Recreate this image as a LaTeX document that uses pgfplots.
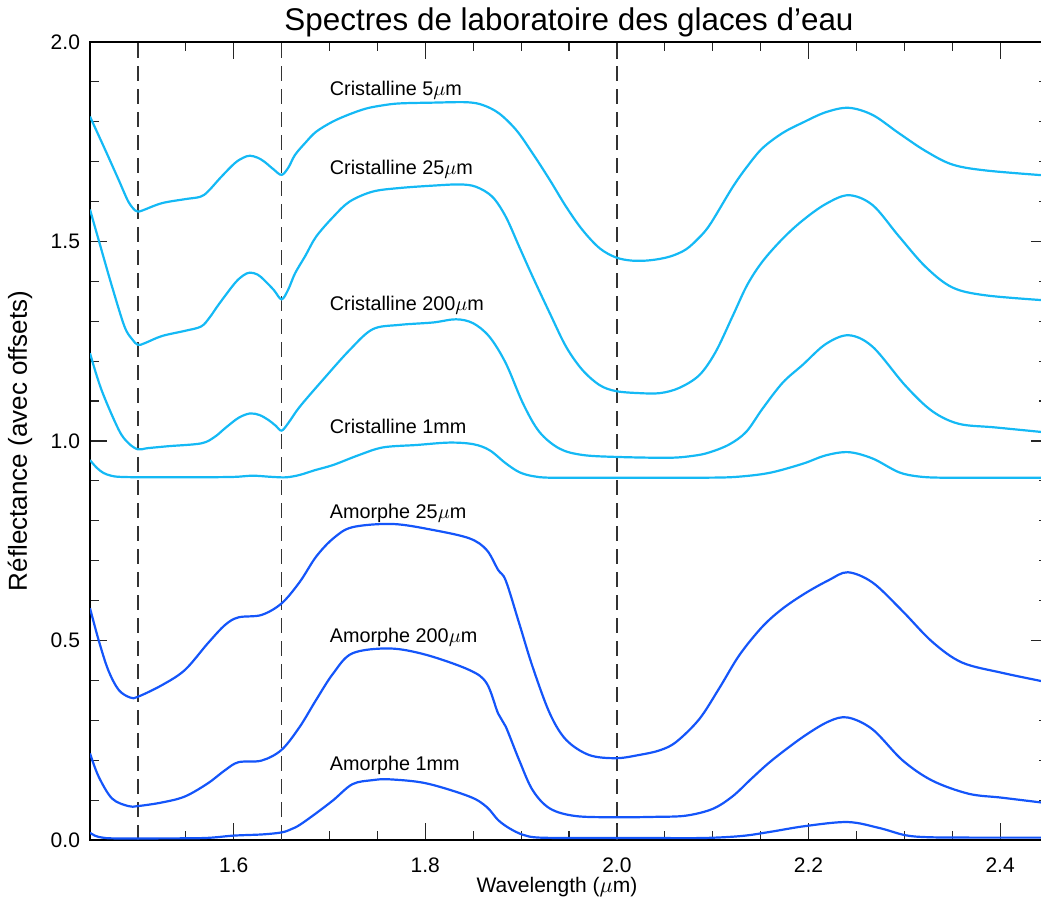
\documentclass[border=0pt]{standalone}
\usepackage{pgfplots}
\pgfplotsset{compat=1.18}
\usepackage{fontspec}
\setmainfont{Liberation Sans}
\definecolor{cris}{RGB}{20,185,245}
\definecolor{amor}{RGB}{20,85,250}
\begin{document}
\begin{tikzpicture}
\begin{axis}[
  scale only axis, width=479pt, height=399pt,
  xmin=1.45, xmax=2.45, ymin=0, ymax=2,
  xtick={1.6,1.8,2.0,2.2,2.4},
  minor xtick={1.45,1.5,1.55,1.65,1.7,1.75,1.85,1.9,1.95,2.05,2.1,2.15,2.25,2.3,2.35,2.45},
  ytick={0,0.5,1,1.5,2},
  minor ytick={0.1,0.2,0.3,0.4,0.6,0.7,0.8,0.9,1.1,1.2,1.3,1.4,1.6,1.7,1.8,1.9},
  major tick length=8.5pt, minor tick length=4.5pt,
  tick style={black!85, line width=0.6pt},
  axis line style={line width=0.8pt},
  /pgf/number format/assume math mode=true,
  x tick label style={/pgf/number format/.cd, fixed, fixed zerofill, precision=1, /tikz/.cd, font=\fontsize{10.5}{12}\selectfont, yshift=-5.5pt},
  y tick label style={/pgf/number format/.cd, fixed, fixed zerofill, precision=1, /tikz/.cd, font=\fontsize{10.5}{12}\selectfont, xshift=-1.5pt},
  title={Spectres de laboratoire des glaces d'eau},
  every axis title/.style={font=\fontsize{15.7}{18}\selectfont, at={(axis description cs:0.5,1)}, anchor=base, yshift=5.5pt},
  xlabel={Wavelength ($\mu$m)},
  every axis x label/.style={font=\fontsize{10.5}{12}\selectfont, at={(axis description cs:0.5,0)}, anchor=center, yshift=-23.5pt, xshift=-6pt},
  ylabel={Réflectance (avec offsets)},
  every axis y label/.style={font=\fontsize{13}{15}\selectfont, at={(axis description cs:0,0.5)}, rotate=90, anchor=center, yshift=35pt},
  every axis plot/.append style={line width=1.1pt},
]
% vertical dashed reference lines
\addplot[black!80, line width=0.7pt, dash pattern=on 7.5pt off 4pt] coordinates {(1.5,0) (1.5,2)};
\addplot[black!80, line width=0.7pt, dash pattern=on 7.5pt off 4pt] coordinates {(1.65,0) (1.65,2)};
\addplot[black!80, line width=0.7pt, dash pattern=on 7.5pt off 4pt] coordinates {(2.0,0) (2.0,2)};
% Cristalline 5 um
\addplot[cris, smooth, tension=0.55] coordinates {
(1.450,1.813) (1.466,1.729) (1.480,1.654) (1.490,1.600) (1.497,1.578) (1.500,1.575) (1.505,1.578)
(1.525,1.596) (1.549,1.606) (1.565,1.612) (1.573,1.625) (1.587,1.662) (1.601,1.696) (1.610,1.710)
(1.617,1.715) (1.625,1.710) (1.632,1.700) (1.642,1.680) (1.650,1.667) (1.657,1.685) (1.664,1.717)
(1.675,1.748) (1.686,1.775) (1.703,1.800) (1.720,1.818) (1.738,1.833) (1.755,1.841) (1.773,1.846)
(1.808,1.848) (1.843,1.849) (1.860,1.842) (1.877,1.821) (1.895,1.779) (1.912,1.721) (1.930,1.654)
(1.947,1.587) (1.964,1.529) (1.982,1.483) (1.999,1.460) (2.016,1.452) (2.035,1.453) (2.055,1.462)
(2.072,1.480) (2.086,1.510) (2.095,1.535) (2.103,1.565) (2.121,1.637) (2.136,1.688) (2.152,1.734) (2.173,1.772)
(2.194,1.798) (2.218,1.824) (2.242,1.835) (2.267,1.817) (2.294,1.772) (2.322,1.727) (2.350,1.693)
(2.385,1.678) (2.450,1.665)};
% Cristalline 25 um
\addplot[cris, smooth, tension=0.55] coordinates {
(1.450,1.580) (1.459,1.504) (1.473,1.387) (1.486,1.287) (1.494,1.255) (1.500,1.241) (1.507,1.245)
(1.525,1.263) (1.549,1.276) (1.566,1.287) (1.575,1.310) (1.584,1.341) (1.601,1.395) (1.610,1.415)
(1.617,1.422) (1.625,1.417) (1.632,1.403) (1.642,1.378) (1.650,1.355) (1.657,1.380) (1.664,1.420)
(1.675,1.465) (1.686,1.512) (1.704,1.562) (1.721,1.600) (1.745,1.625) (1.773,1.634) (1.808,1.640)
(1.836,1.643) (1.853,1.637) (1.870,1.612) (1.884,1.562) (1.898,1.487) (1.912,1.412) (1.930,1.320)
(1.947,1.236) (1.964,1.178) (1.982,1.140) (1.999,1.125) (2.023,1.120) (2.045,1.120) (2.065,1.133)
(2.086,1.165) (2.103,1.223) (2.121,1.314) (2.136,1.391) (2.152,1.450) (2.173,1.507) (2.194,1.553)
(2.218,1.594) (2.242,1.616) (2.267,1.591) (2.294,1.514) (2.322,1.437) (2.350,1.385) (2.385,1.365)
(2.450,1.352)};
% Cristalline 200 um
\addplot[cris, smooth, tension=0.55] coordinates {
(1.450,1.220) (1.462,1.128) (1.480,1.028) (1.490,0.995) (1.500,0.979) (1.510,0.982) (1.532,0.987)
(1.566,0.994) (1.580,1.010) (1.591,1.032) (1.605,1.058) (1.617,1.069) (1.627,1.065) (1.636,1.053)
(1.644,1.038) (1.650,1.026) (1.657,1.045) (1.669,1.086) (1.693,1.153) (1.721,1.228) (1.745,1.280)
(1.773,1.291) (1.808,1.297) (1.832,1.305) (1.850,1.295) (1.867,1.261) (1.884,1.195) (1.902,1.094)
(1.919,1.023) (1.940,0.981) (1.964,0.965) (2.000,0.960) (2.055,0.958) (2.080,0.963) (2.096,0.971) (2.117,0.991)
(2.135,1.023) (2.152,1.081) (2.173,1.146) (2.194,1.191) (2.218,1.243) (2.242,1.265) (2.267,1.236)
(2.301,1.139) (2.329,1.075) (2.357,1.043) (2.395,1.034) (2.450,1.021)};
% Cristalline 1 mm
\addplot[cris, smooth, tension=0.55] coordinates {
(1.450,0.952) (1.457,0.933) (1.464,0.920) (1.472,0.913) (1.482,0.910) (1.510,0.909) (1.560,0.909)
(1.600,0.910) (1.620,0.913) (1.640,0.910) (1.655,0.909)
(1.669,0.915) (1.685,0.927) (1.704,0.940) (1.731,0.965) (1.756,0.984) (1.791,0.990) (1.825,0.996)
(1.850,0.992) (1.867,0.977) (1.884,0.944) (1.898,0.922) (1.912,0.912) (1.930,0.908) (1.980,0.908)
(2.040,0.908) (2.090,0.908) (2.124,0.910) (2.159,0.920)
(2.194,0.943) (2.218,0.964) (2.242,0.972) (2.267,0.956) (2.294,0.922) (2.315,0.911) (2.340,0.908)
(2.390,0.908) (2.450,0.908)};
% Amorphe 25 um
\addplot[amor, smooth, tension=0.55] coordinates {
(1.450,0.581) (1.459,0.501) (1.469,0.426) (1.480,0.376) (1.492,0.357) (1.500,0.359) (1.525,0.388)
(1.549,0.426) (1.573,0.493) (1.591,0.539) (1.605,0.558) (1.629,0.564) (1.650,0.593) (1.669,0.647)
(1.686,0.710) (1.704,0.756) (1.724,0.784) (1.766,0.792) (1.808,0.777) (1.846,0.756) (1.864,0.727)
(1.876,0.677) (1.884,0.650) (1.898,0.543) (1.912,0.434) (1.930,0.317) (1.947,0.251) (1.971,0.213)
(1.999,0.205) (2.023,0.213) (2.045,0.225) (2.062,0.246) (2.086,0.303) (2.107,0.381) (2.128,0.464)
(2.152,0.535) (2.173,0.580) (2.197,0.619) (2.221,0.651) (2.241,0.671) (2.267,0.645) (2.298,0.574)
(2.329,0.497) (2.360,0.445) (2.402,0.419) (2.450,0.395)};
% Amorphe 200 um
\addplot[amor, smooth, tension=0.55] coordinates {
(1.450,0.217) (1.459,0.159) (1.473,0.104) (1.490,0.085) (1.500,0.085) (1.525,0.094) (1.549,0.109)
(1.573,0.142) (1.591,0.175) (1.605,0.195) (1.629,0.199) (1.650,0.226) (1.669,0.284) (1.686,0.351)
(1.704,0.418) (1.724,0.468) (1.763,0.480) (1.801,0.464) (1.846,0.426) (1.864,0.393) (1.876,0.317)
(1.884,0.284) (1.898,0.200) (1.912,0.125) (1.930,0.079) (1.957,0.060) (2.000,0.057) (2.040,0.058) (2.072,0.061)
(2.100,0.078) (2.121,0.110) (2.141,0.155) (2.162,0.200) (2.194,0.258) (2.221,0.297) (2.241,0.307)
(2.267,0.277) (2.298,0.200) (2.329,0.149) (2.367,0.116) (2.402,0.106) (2.450,0.092)};
% Amorphe 1 mm
\addplot[amor, smooth, tension=0.55] coordinates {
(1.450,0.018) (1.456,0.010) (1.463,0.006) (1.475,0.004) (1.520,0.004) (1.570,0.005) (1.600,0.011)
(1.630,0.014) (1.650,0.019)
(1.660,0.027) (1.669,0.038) (1.686,0.067) (1.704,0.100) (1.724,0.140) (1.745,0.150) (1.763,0.152)
(1.801,0.142) (1.846,0.109) (1.864,0.083) (1.876,0.050) (1.888,0.029) (1.902,0.013) (1.919,0.006)
(1.970,0.005) (2.030,0.005) (2.090,0.005) (2.130,0.010) (2.159,0.020) (2.197,0.035) (2.241,0.045)
(2.274,0.030) (2.301,0.012) (2.325,0.007) (2.370,0.006) (2.450,0.006)};
% curve labels
\begin{scope}[every node/.style={font=\fontsize{9.9}{12}\selectfont, inner sep=0pt, anchor=base west}]
\node at (axis cs:1.700,1.867) {Cristalline 5$\mu$m};
\node at (axis cs:1.700,1.667) {Cristalline 25$\mu$m};
\node at (axis cs:1.700,1.327) {Cristalline 200$\mu$m};
\node at (axis cs:1.700,1.018) {Cristalline 1mm};
\node at (axis cs:1.700,0.806) {Amorphe 25$\mu$m};
\node at (axis cs:1.700,0.496) {Amorphe 200$\mu$m};
\node at (axis cs:1.700,0.175) {Amorphe 1mm};
\end{scope}
\end{axis}
\pgfresetboundingbox
\path ([shift={(-45pt,-34pt)}]current axis.south west) rectangle ([shift={(-3.5pt,21pt)}]current axis.north east);
\end{tikzpicture}
\end{document}
